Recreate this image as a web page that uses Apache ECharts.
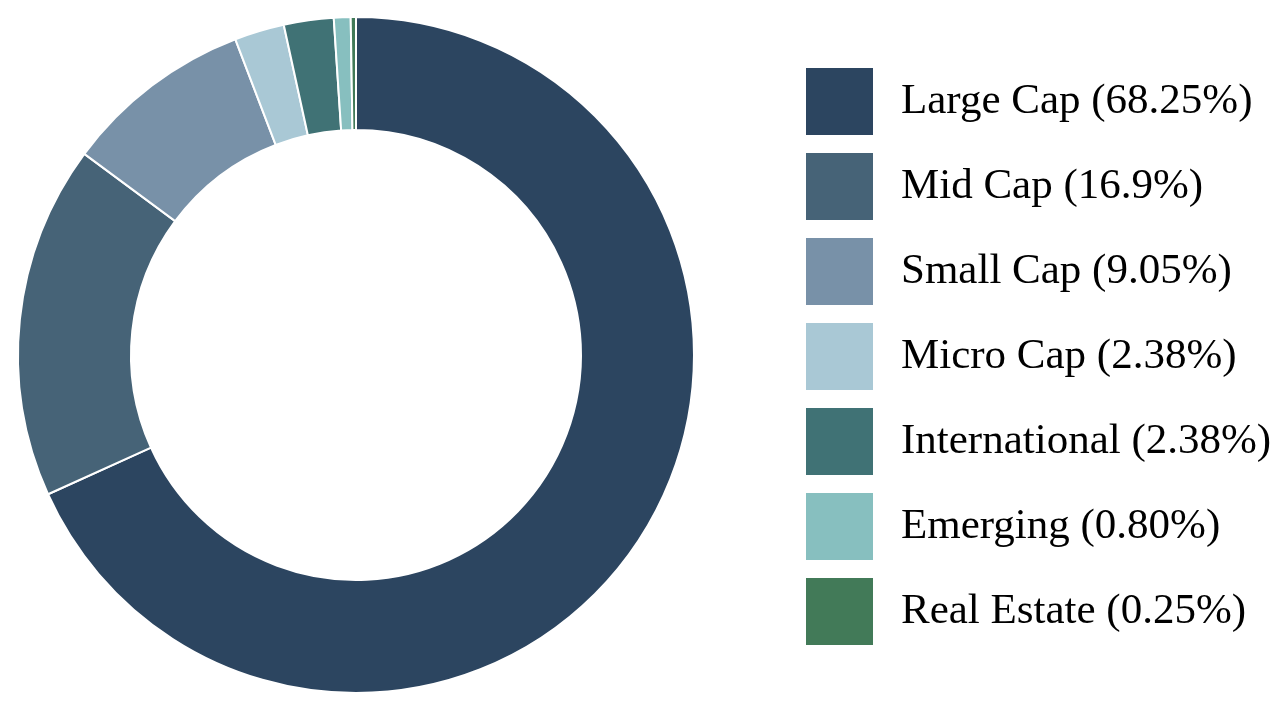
<!DOCTYPE html>
<html>
<head>
<meta charset="utf-8">
<script src="https://cdn.jsdelivr.net/npm/echarts@6/dist/echarts.min.js"></script>
<style>
html,body{margin:0;padding:0;background:#fff;}
#chart{width:1280px;height:712px;}
</style>
</head>
<body>
<div id="chart"></div>
<script>
const categories = ["Large Cap", "Mid Cap", "Small Cap", "Micro Cap", "International", "Emerging", "Real Estate"];
const values = [68.25, 16.9, 9.05, 2.38, 2.38, 0.80, 0.25];
const valueLabels = ["68.25", "16.9", "9.05", "2.38", "2.38", "0.80", "0.25"];
const colors = ["#2c4560", "#466377", "#7891a8", "#a9c8d5", "#407275", "#87bfbf", "#427a58"];

const chart = echarts.init(document.getElementById('chart'));
const data = categories.map((c, i) => ({ name: c, value: values[i], itemStyle: { color: colors[i] } }));
const labelMap = {};
categories.forEach((c, i) => { labelMap[c] = c + " (" + valueLabels[i] + "%)"; });

chart.setOption({
  animation: false,
  legend: {
    orient: 'vertical',
    left: 806,
    top: 68,
    padding: 0,
    itemWidth: 67,
    itemHeight: 67,
    itemGap: 18,
    icon: 'rect',
    itemStyle: { borderWidth: 0 },
    formatter: name => labelMap[name],
    textStyle: { fontFamily: 'Liberation Serif', fontSize: 43, color: '#000', padding: [5, 0, 0, 23] },
    data: categories
  },
  series: [{
    type: 'pie',
    center: [356, 355],
    radius: [225, 338],
    startAngle: 90,
    clockwise: true,
    label: { show: false },
    labelLine: { show: false },
    itemStyle: { borderColor: '#fff', borderWidth: 2 },
    emphasis: { disabled: true },
    data: data
  }]
});
</script>
</body>
</html>
